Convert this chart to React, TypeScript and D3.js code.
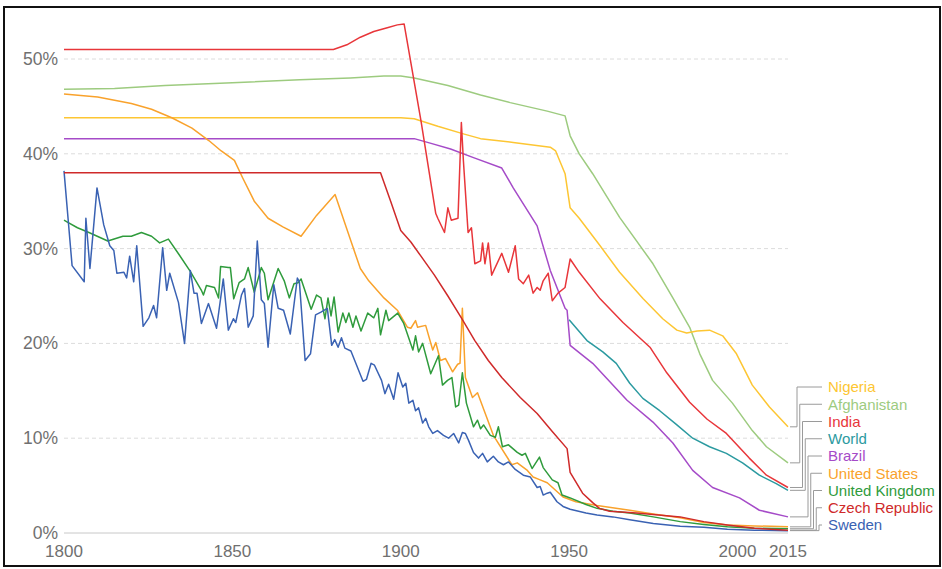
import React from "react";
import * as d3 from "d3";

type Pt = [number, number];

const sweden: Pt[] = [[1800,38.2],[1802.4,28.2],[1806,26.5],[1806.5,33.2],[1807.7,27.9],[1809.8,36.4],[1811.8,32.5],[1813.6,30.3],[1814.8,29.8],[1815.7,27.4],[1817.8,27.5],[1818.6,26.9],[1819.5,29.2],[1820.7,26.5],[1821.6,30.3],[1823.5,21.8],[1825.2,22.7],[1826.6,24],[1827.5,22.7],[1829.3,30.1],[1830.5,25.6],[1831.4,27.4],[1834,24.3],[1835.8,20],[1837.5,27.7],[1838.6,25.3],[1839.5,25.3],[1840.8,22.1],[1842.9,24.2],[1845.3,21.6],[1847.3,26.8],[1848.8,21.4],[1850.3,22.6],[1851,22.2],[1852.7,25.1],[1853.6,25.8],[1854.7,21.7],[1856.2,22.9],[1857.4,30.8],[1858.6,24.6],[1859.5,24.2],[1860.6,19.6],[1862.3,26.2],[1863.6,23.7],[1865.2,23.5],[1867.2,21],[1869.3,26.9],[1869.9,26.5],[1871.6,18.2],[1873.2,18.9],[1874.7,23],[1876.3,23.3],[1878.2,23.7],[1879.5,19.8],[1880.4,20.4],[1881.4,19.6],[1882.4,20.6],[1883.4,19.5],[1885.2,19.2],[1888.8,16],[1889.8,16.2],[1891.2,17.9],[1892.2,17.7],[1894.3,16.1],[1895.3,14.7],[1896.4,15.7],[1897.9,14.1],[1899.2,16.9],[1900.6,15.4],[1901.5,15.8],[1902.4,13.7],[1903.6,14],[1904.4,12.9],[1905.3,13.2],[1906.5,11.6],[1907.4,12.1],[1908.3,11.2],[1909.5,10.5],[1910.9,10.8],[1912.7,10.3],[1914.2,10],[1915.7,10.5],[1917.2,9.5],[1918.3,10.6],[1919.2,10.5],[1920.1,9.8],[1921.6,8.5],[1923.1,7.9],[1924.3,8.4],[1925.7,7.5],[1927.5,8.1],[1929,7.5],[1930.5,7.2],[1932,7.5],[1934,6.7],[1936.4,6.1],[1938.5,5.9],[1940.5,4.8],[1941.4,4.9],[1942.3,4],[1943.5,4.2],[1944.4,4.3],[1946.4,3.3],[1948.2,2.8],[1950.3,2.5],[1955,2.1],[1958.3,1.9],[1963,1.7],[1968,1.4],[1975,1.0],[1983,0.7],[1990,0.6],[1997,0.4],[2005,0.3],[2015,0.25]];

const unitedKingdom: Pt[] = [[1800,33],[1801,32.8],[1804,32.2],[1807.4,31.7],[1813,30.8],[1817.5,31.3],[1820,31.3],[1823,31.7],[1826,31.3],[1828.4,30.6],[1831,31.0],[1834.3,29.3],[1837.5,27.6],[1840.8,25.6],[1841.4,25.1],[1842.3,26.1],[1844.7,25.9],[1845.9,24.8],[1846.5,28.1],[1848.8,28],[1849.4,28],[1850.4,24.7],[1852,26.4],[1853.6,26.8],[1854.7,28],[1856.5,25.4],[1858.6,28],[1859.5,27.4],[1860.6,24.6],[1861.5,25.6],[1863.6,27.9],[1865.4,26.6],[1866.9,24.8],[1868.3,26.3],[1869.5,26.4],[1870.4,26.8],[1873.4,23.6],[1875,25.1],[1876.3,24.8],[1877.5,22.6],[1878.4,24.8],[1879.3,22.9],[1880.2,24.9],[1881.4,21.2],[1882.8,23.2],[1883.7,22.2],[1884.6,23.2],[1885.8,21.7],[1886.7,22.9],[1888.2,21.3],[1890.2,23.2],[1892,22.7],[1893.2,23.7],[1894,20.9],[1895.6,23.5],[1896.4,22.4],[1899.1,23.2],[1900.9,22.1],[1903.6,19.3],[1904.4,20.8],[1905.3,19.1],[1906.5,20],[1908.9,16.8],[1911.2,18.7],[1912.4,15.6],[1913.9,16.1],[1915.2,16.4],[1916.3,13.3],[1917.2,13.5],[1918.3,16.9],[1919.5,13.7],[1921.6,11.2],[1922.8,11.9],[1923.7,11],[1924.6,11.4],[1926.6,10.3],[1928.1,10.1],[1929,11.2],[1930.2,9.1],[1932,9.3],[1934.6,8.5],[1936,8.2],[1937,8.4],[1939,6.8],[1941.2,8.0],[1942.3,6.9],[1945,5.6],[1946.7,5.3],[1947.9,4.0],[1950.3,3.7],[1955,3.0],[1958.3,2.6],[1963,2.3],[1968,2.1],[1975,1.7],[1983,1.2],[1990,0.9],[1997,0.65],[2005,0.5],[2015,0.45]];

const unitedStates: Pt[] = [[1800,46.3],[1810,46.0],[1820,45.3],[1826,44.7],[1832,43.8],[1838,42.7],[1843,41.4],[1846.7,40.3],[1850.6,39.3],[1853,37.5],[1856.5,35],[1860.6,33.2],[1865,32.3],[1870.4,31.3],[1875,33.5],[1880.5,35.7],[1885.2,30.8],[1888,27.9],[1890.5,26.6],[1895,24.8],[1899,23.5],[1902,21.7],[1903,21.6],[1904.4,22.4],[1905,21.7],[1907.4,21.9],[1909.5,19.3],[1910.4,20.1],[1911.8,18.2],[1913.3,18.4],[1915.4,17],[1916.9,17.8],[1917.6,17.9],[1918.3,23.7],[1919.2,16.4],[1921.3,14.3],[1922.8,14.8],[1927.5,10.3],[1933,7.2],[1934.6,7.4],[1937.6,6.6],[1939.3,5.9],[1941.4,5.6],[1943.5,5.3],[1948.2,3.8],[1952,3.3],[1958.3,2.9],[1968,2.4],[1975,2.0],[1983,1.6],[1990,1.1],[1997,0.85],[2005,0.75],[2015,0.65]];

const czechRepublic: Pt[] = [[1800,38],[1894,38],[1897,35],[1900,31.9],[1903,30.7],[1906,29.2],[1910,27.2],[1914,25],[1918,22.7],[1922,20.3],[1926,18.2],[1930,16.4],[1935.5,14.3],[1940.5,12.6],[1945,10.7],[1949.4,8.9],[1950.3,6.4],[1954,4.2],[1957,3.2],[1959,2.6],[1962,2.3],[1970,2.1],[1983,1.7],[1990,1.2],[1997,0.85],[2005,0.5],[2015,0.3]];

const india: Pt[] = [[1800,51],[1880,51],[1884,51.5],[1888,52.3],[1892,52.9],[1896,53.3],[1899,53.6],[1901,53.7],[1906,43.5],[1910.4,33.7],[1911,33.2],[1913,31.7],[1914,34.3],[1915,33],[1917,33.2],[1918,43.3],[1918.6,39.3],[1920,31.7],[1921,32.2],[1922,28.4],[1923.7,28.7],[1924.3,30.6],[1925,28.4],[1926,30.6],[1927,27.2],[1930,29.5],[1932,27.5],[1934,30.3],[1935,26.8],[1936.4,26.3],[1938,27.2],[1939.3,25.3],[1940.5,25.9],[1941.4,25.6],[1942.3,26.6],[1943.8,27.4],[1945,24.5],[1946.7,25.3],[1948.8,25.9],[1950.3,28.9],[1953,27.5],[1959.2,24.7],[1966,22.2],[1974,19.6],[1979,16.9],[1985.8,13.8],[1991,12],[1996.7,10.5],[2003.5,7.9],[2008.6,6.1],[2015,4.8]];

const nigeria: Pt[] = [[1800,43.8],[1900,43.8],[1904,43.7],[1911,42.9],[1918.6,42.1],[1923.7,41.6],[1933.4,41.2],[1944.4,40.7],[1946,40.3],[1948.8,37.9],[1950.3,34.3],[1953,33.2],[1959.2,30.3],[1965,27.5],[1972,24.7],[1977.8,22.6],[1982,21.4],[1984.9,21.1],[1988,21.3],[1991.7,21.4],[1995.6,20.8],[1999.7,18.9],[2004.4,15.6],[2009.5,13.3],[2015,11.2]];

const afghanistan: Pt[] = [[1800,46.8],[1815,46.9],[1830,47.2],[1850,47.5],[1870,47.8],[1885,48.0],[1895,48.2],[1900,48.2],[1904,48],[1914,47.2],[1923.7,46.2],[1932.5,45.4],[1943.5,44.5],[1948.8,44],[1950.3,41.9],[1953,40],[1957,37.9],[1965,33.3],[1974.9,28.4],[1980.8,24.8],[1985.8,21.7],[1988.8,18.9],[1992.6,16.1],[1998.5,13.7],[2004.4,10.8],[2008.6,9.1],[2015,7.4]];

const brazil: Pt[] = [[1800,41.6],[1900,41.6],[1904,41.6],[1909,41.1],[1914.8,40.5],[1921.6,39.6],[1930,38.5],[1933.4,36.4],[1940.5,32.4],[1944.4,27.7],[1948.8,23.7],[1949.4,23.5],[1950.3,19.8],[1957,17.9],[1967.2,14],[1974.9,11.7],[1980.8,9.5],[1986.7,6.6],[1992.6,4.8],[2000.6,3.7],[2006.5,2.4],[2015,1.7]];

const world: Pt[] = [[1950,22.5],[1955.3,20.3],[1960,19.1],[1964,17.9],[1968,15.8],[1971.9,14.2],[1976.9,12.9],[1982,11.4],[1986.7,10],[1991.7,9.1],[1996.7,8.4],[2001.5,7.4],[2006.5,6.1],[2011.5,5.2],[2015,4.5]];

const seriesNames = ["Nigeria", "Afghanistan", "India", "World", "Brazil", "United States", "United Kingdom", "Czech Republic", "Sweden"];
const seriesData: Pt[][] = [nigeria, afghanistan, india, world, brazil, unitedStates, unitedKingdom, czechRepublic, sweden];
const seriesColors = ["#fdc633", "#9dcb7f", "#e8363a", "#2b9aa0", "#a54bc8", "#f9a22c", "#2f9b3c", "#cf2a2a", "#3a62b3"];
const drawOrder = [3, 1, 0, 4, 2, 5, 6, 8, 7];

const yTicks = [0, 10, 20, 30, 40, 50];
const xTicks = [1800, 1850, 1900, 1950, 2000, 2015];

export default function App() {
  const x = d3.scaleLinear().domain([1800, 2015]).range([64, 788]);
  const y = d3.scaleLinear().domain([0, 50]).range([533, 59]);
  const line = d3.line<Pt>().x((d) => x(d[0])).y((d) => y(d[1]));
  const font = "'Liberation Sans', Arial, sans-serif";

  return (
    <div style={{ position: "absolute", left: 0, top: 0 }}>
      <svg width={942} height={569} style={{ display: "block", background: "#fff" }}>
        <rect x={4} y={7} width={936} height={559} fill="#fff" stroke="#111" strokeWidth={2} />
        {yTicks.map((t) => (
          <g key={t}>
            <line
              x1={x(1800)}
              x2={x(2015)}
              y1={y(t)}
              y2={y(t)}
              stroke={t === 0 ? "#c8c8c8" : "#dcdcdc"}
              strokeWidth={1}
              strokeDasharray={t === 0 ? undefined : "4,3"}
            />
            <text x={58} y={y(t)} dy="0.34em" textAnchor="end" fontFamily={font} fontSize={17.5} fill="#707070">
              {t}%
            </text>
          </g>
        ))}
        {xTicks.map((t) => (
          <text key={t} x={x(t)} y={557} textAnchor="middle" fontFamily={font} fontSize={17} fill="#707070">
            {t}
          </text>
        ))}
        {drawOrder.map((i) => (
          <path
            key={seriesNames[i]}
            d={line(seriesData[i]) || ""}
            fill="none"
            stroke={seriesColors[i]}
            strokeWidth={1.5}
            strokeLinejoin="round"
          />
        ))}
        {seriesNames.map((name, i) => {
          const data = seriesData[i];
          const last = data[data.length - 1];
          const ey = y(last[1]);
          const ly = 387 + i * 17.25;
          const vx = 797 + i * 2.75;
          return (
            <g key={name}>
              <path
                d={`M${x(last[0]) + 2},${ey}H${vx}V${ly}H822`}
                fill="none"
                stroke="#9a9a9a"
                strokeWidth={1}
              />
              <text x={828} y={ly} dy="0.35em" fontFamily={font} fontSize={15} fill={seriesColors[i]}>
                {name}
              </text>
            </g>
          );
        })}
      </svg>
    </div>
  );
}
